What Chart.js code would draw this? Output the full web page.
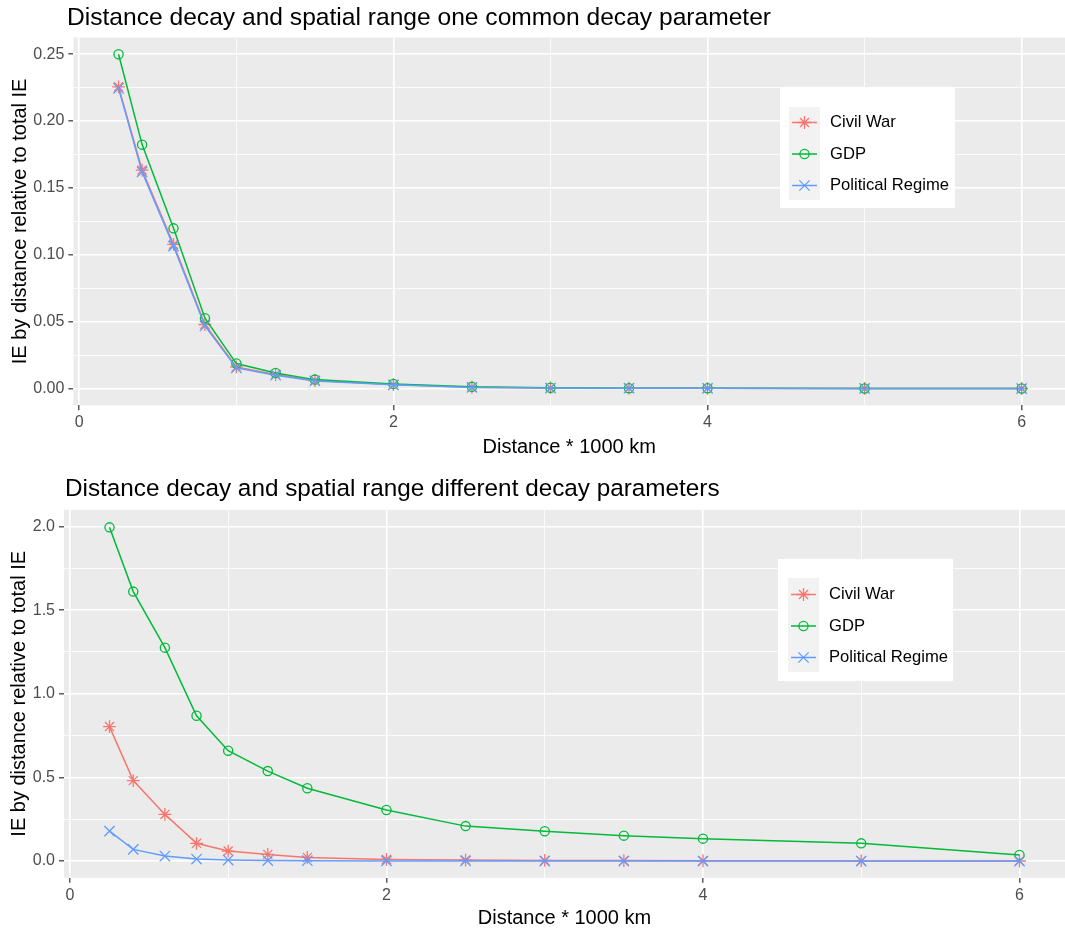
<!DOCTYPE html>
<html><head><meta charset="utf-8">
<script src="https://cdn.jsdelivr.net/npm/chart.js@4.4.1/dist/chart.umd.min.js"></script>
<style>
html,body{margin:0;padding:0;background:#fff;overflow:hidden;width:1065px;height:931px}
.box{position:absolute;left:0;width:1065px}
</style></head><body>
<div class="box" style="top:0;height:465px"><canvas id="c1"></canvas></div>
<div class="box" style="top:465px;height:466px"><canvas id="c2"></canvas></div>
<script>
// ---------- data ----------
const seriesNames = ['Civil War', 'GDP', 'Political Regime'];
const distance = [0.25, 0.4, 0.6, 0.8, 1, 1.25, 1.5, 2, 2.5, 3, 3.5, 4, 5, 6];

// Chart 1: one common decay parameter
const civilWarCommon  = [0.2256, 0.1634, 0.1078, 0.0479, 0.0162, 0.0105, 0.0060, 0.0030, 0.0010, 0.0005, 0.0003, 0.0002, 0.0001, 0.00005];
const gdpCommon       = [0.2500, 0.1824, 0.1198, 0.0526, 0.0187, 0.0117, 0.0067, 0.0035, 0.0013, 0.0006, 0.0003, 0.0002, 0.0001, 0.00005];
const politicalCommon = [0.2245, 0.1620, 0.1065, 0.0468, 0.0155, 0.0100, 0.0057, 0.0028, 0.0009, 0.0004, 0.0003, 0.0002, 0.0001, 0.00005];

// Chart 2: different decay parameters
const civilWarDiff  = [0.804, 0.481, 0.279, 0.106, 0.060, 0.040, 0.022, 0.010, 0.006, 0.004, 0.003, 0.002, 0.001, 0.0005];
const gdpDiff       = [1.995, 1.611, 1.276, 0.869, 0.660, 0.538, 0.435, 0.305, 0.209, 0.178, 0.152, 0.134, 0.106, 0.036];
const politicalDiff = [0.179, 0.070, 0.030, 0.012, 0.006, 0.003, 0.002, 0.001, 0.0005, 0.0003, 0.0002, 0.0001, 0.0001, 0.00005];

// tick labels
const xMajor = [0, 2, 4, 6];
const xMajorLabels = ['0', '2', '4', '6'];
const xMinor = [1, 3, 5];
const yMajorCommon = [0, 0.05, 0.10, 0.15, 0.20, 0.25];
const yLabelsCommon = ['0.00', '0.05', '0.10', '0.15', '0.20', '0.25'];
const yMinorCommon = [0.025, 0.075, 0.125, 0.175, 0.225];
const yMajorDiff = [0, 0.5, 1.0, 1.5, 2.0];
const yLabelsDiff = ['0.0', '0.5', '1.0', '1.5', '2.0'];
const yMinorDiff = [0.25, 0.75, 1.25, 1.75];

const title1 = 'Distance decay and spatial range one common decay parameter';
const title2 = 'Distance decay and spatial range different decay parameters';
const xTitle = 'Distance * 1000 km';
const yTitle = 'IE by distance relative to total IE';

// ---------- styling ----------
const FONT = '"Liberation Sans", Arial, Helvetica, sans-serif';
const COLORS = ['#F8766D', '#00BA38', '#619CFF'];
const POINT = [
  {style: 'star', radius: 6.4},
  {style: 'circle', radius: 4.6},
  {style: 'crossRot', radius: 7.3}
];

function near(a, b) { return Math.abs(a - b) < 1e-9; }
function labelFor(v, majors, labels) {
  for (let i = 0; i < majors.length; i++) if (near(v, majors[i])) return labels[i];
  return '';
}
function isMajor(v, majors) { return majors.some(m => near(m, v)); }

function build(id, spec) {
  const H = spec.H, W = 1065;
  const a = spec.area;
  const datasets = spec.series.map((vals, i) => ({
    label: seriesNames[i],
    data: distance.map((d, j) => ({x: d, y: vals[j]})),
    borderColor: COLORS[i],
    backgroundColor: 'rgba(0,0,0,0)',
    borderWidth: 1.5,
    pointStyle: POINT[i].style,
    pointRadius: POINT[i].radius,
    pointBorderWidth: 1.3,
    pointBorderColor: COLORS[i],
    pointBackgroundColor: 'rgba(0,0,0,0)',
    tension: 0,
    order: 2 - i
  }));

  const xTicks = xMajor.concat(xMinor).sort((p, q) => p - q);
  const yTicks = spec.yMajor.concat(spec.yMinor).sort((p, q) => p - q);

  const decor = {
    id: 'decor' + id,
    beforeDraw(chart) {
      const c = chart.ctx, ca = chart.chartArea;
      c.save();
      c.fillStyle = '#EBEBEB';
      c.fillRect(ca.left, ca.top, ca.right - ca.left, ca.bottom - ca.top);
      c.restore();
    },
    afterDraw(chart) {
      const c = chart.ctx;
      c.save();
      // plot title
      c.fillStyle = '#000';
      c.font = spec.titleSize + 'px ' + FONT;
      c.textBaseline = 'middle';
      c.textAlign = 'left';
      c.fillText(spec.title, spec.titleX, spec.titleY);
      // legend
      const L = spec.legend;
      c.fillStyle = '#FFFFFF';
      c.fillRect(L.x, L.y, L.w, L.h);
      c.fillStyle = '#F2F2F2';
      c.fillRect(L.kx, L.ky, L.kw, L.kh);
      L.rows.forEach((cy, i) => {
        c.strokeStyle = COLORS[i];
        c.lineWidth = 1.5;
        c.beginPath();
        c.moveTo(L.kx + 3, cy);
        c.lineTo(L.kx + L.kw - 3, cy);
        c.stroke();
        c.fillStyle = 'rgba(0,0,0,0)';
        c.strokeStyle = COLORS[i];
        c.lineWidth = 1.3;
        Chart.helpers.drawPoint(c, {pointStyle: POINT[i].style, radius: POINT[i].radius, rotation: 0, borderWidth: 1.3}, L.kx + L.kw / 2, cy);
        c.fillStyle = '#000';
        c.font = '16.6px ' + FONT;
        c.textBaseline = 'middle';
        c.fillText(seriesNames[i], L.tx, cy);
      });
      c.restore();
    }
  };

  return new Chart(document.getElementById(id), {
    type: 'line',
    data: {datasets},
    plugins: [decor],
    options: {
      responsive: true,
      maintainAspectRatio: false,
      animation: false,
      events: [],
      layout: {autoPadding: false, padding: {left: 0, right: W - a.right, top: a.top, bottom: 0}},
      plugins: {legend: {display: false}, tooltip: {enabled: false}, title: {display: false}},
      scales: {
        x: {
          type: 'linear',
          min: spec.xMin, max: spec.xMax,
          afterBuildTicks(s) { s.ticks = xTicks.map(v => ({value: v})); },
          afterFit(s) { s.height = H - a.bottom; },
          ticks: {
            autoSkip: false, maxRotation: 0, minRotation: 0,
            padding: 3,
            color: '#4D4D4D',
            font: {family: FONT, size: 16},
            callback: v => labelFor(v, xMajor, xMajorLabels)
          },
          grid: {
            color: '#FFFFFF',
            lineWidth: ctx => (ctx.tick && isMajor(ctx.tick.value, xMajor)) ? 1.6 : 0.8,
            tickColor: ctx => (ctx.tick && isMajor(ctx.tick.value, xMajor)) ? '#333333' : 'rgba(0,0,0,0)',
            tickLength: 5,
            tickWidth: 1.2
          },
          border: {display: false},
          title: {display: true, text: xTitle, color: '#000', font: {family: FONT, size: 20}, padding: {top: 0, bottom: spec.xTitlePad}}
        },
        y: {
          type: 'linear',
          min: spec.yMin, max: spec.yMax,
          afterBuildTicks(s) { s.ticks = yTicks.map(v => ({value: v})); },
          afterFit(s) { s.width = a.left; },
          ticks: {
            autoSkip: false,
            padding: 4,
            color: '#4D4D4D',
            font: {family: FONT, size: 16},
            callback: v => labelFor(v, spec.yMajor, spec.yLabels)
          },
          grid: {
            color: '#FFFFFF',
            lineWidth: ctx => (ctx.tick && isMajor(ctx.tick.value, spec.yMajor)) ? 1.6 : 0.8,
            tickColor: ctx => (ctx.tick && isMajor(ctx.tick.value, spec.yMajor)) ? '#333333' : 'rgba(0,0,0,0)',
            tickLength: 5,
            tickWidth: 1.2
          },
          border: {display: false},
          title: {display: true, text: yTitle, color: '#000', font: {family: FONT, size: 20}, padding: {top: spec.yTitlePad, bottom: 0}}
        }
      }
    }
  });
}

build('c1', {
  H: 465,
  area: {left: 73.4, top: 37.5, right: 1065, bottom: 405.3},
  series: [civilWarCommon, gdpCommon, politicalCommon],
  title: title1, titleX: 67, titleY: 18, titleSize: 24.6,
  xMin: -0.0375, xMax: 6.276,
  yMin: -0.0125, yMax: 0.2625,
  yMajor: yMajorCommon, yLabels: yLabelsCommon, yMinor: yMinorCommon,
  xTitlePad: 6, yTitlePad: 8,
  legend: {x: 780, y: 87, w: 175, h: 121, kx: 789, ky: 107, kw: 31, kh: 93, rows: [122.5, 154, 185.5], tx: 830}
});

build('c2', {
  H: 466,
  area: {left: 64, top: 44.8, right: 1065, bottom: 412.8},
  series: [civilWarDiff, gdpDiff, politicalDiff],
  title: title2, titleX: 65, titleY: 24.5, titleSize: 24.3,
  xMin: -0.0375, xMax: 6.2875,
  yMin: -0.1, yMax: 2.1,
  yMajor: yMajorDiff, yLabels: yLabelsDiff, yMinor: yMinorDiff,
  xTitlePad: 1, yTitlePad: 7.5,
  legend: {x: 778, y: 94, w: 175, h: 122, kx: 788, ky: 113, kw: 31, kh: 94, rows: [129.5, 161, 192.5], tx: 829}
});
</script>
</body></html>
